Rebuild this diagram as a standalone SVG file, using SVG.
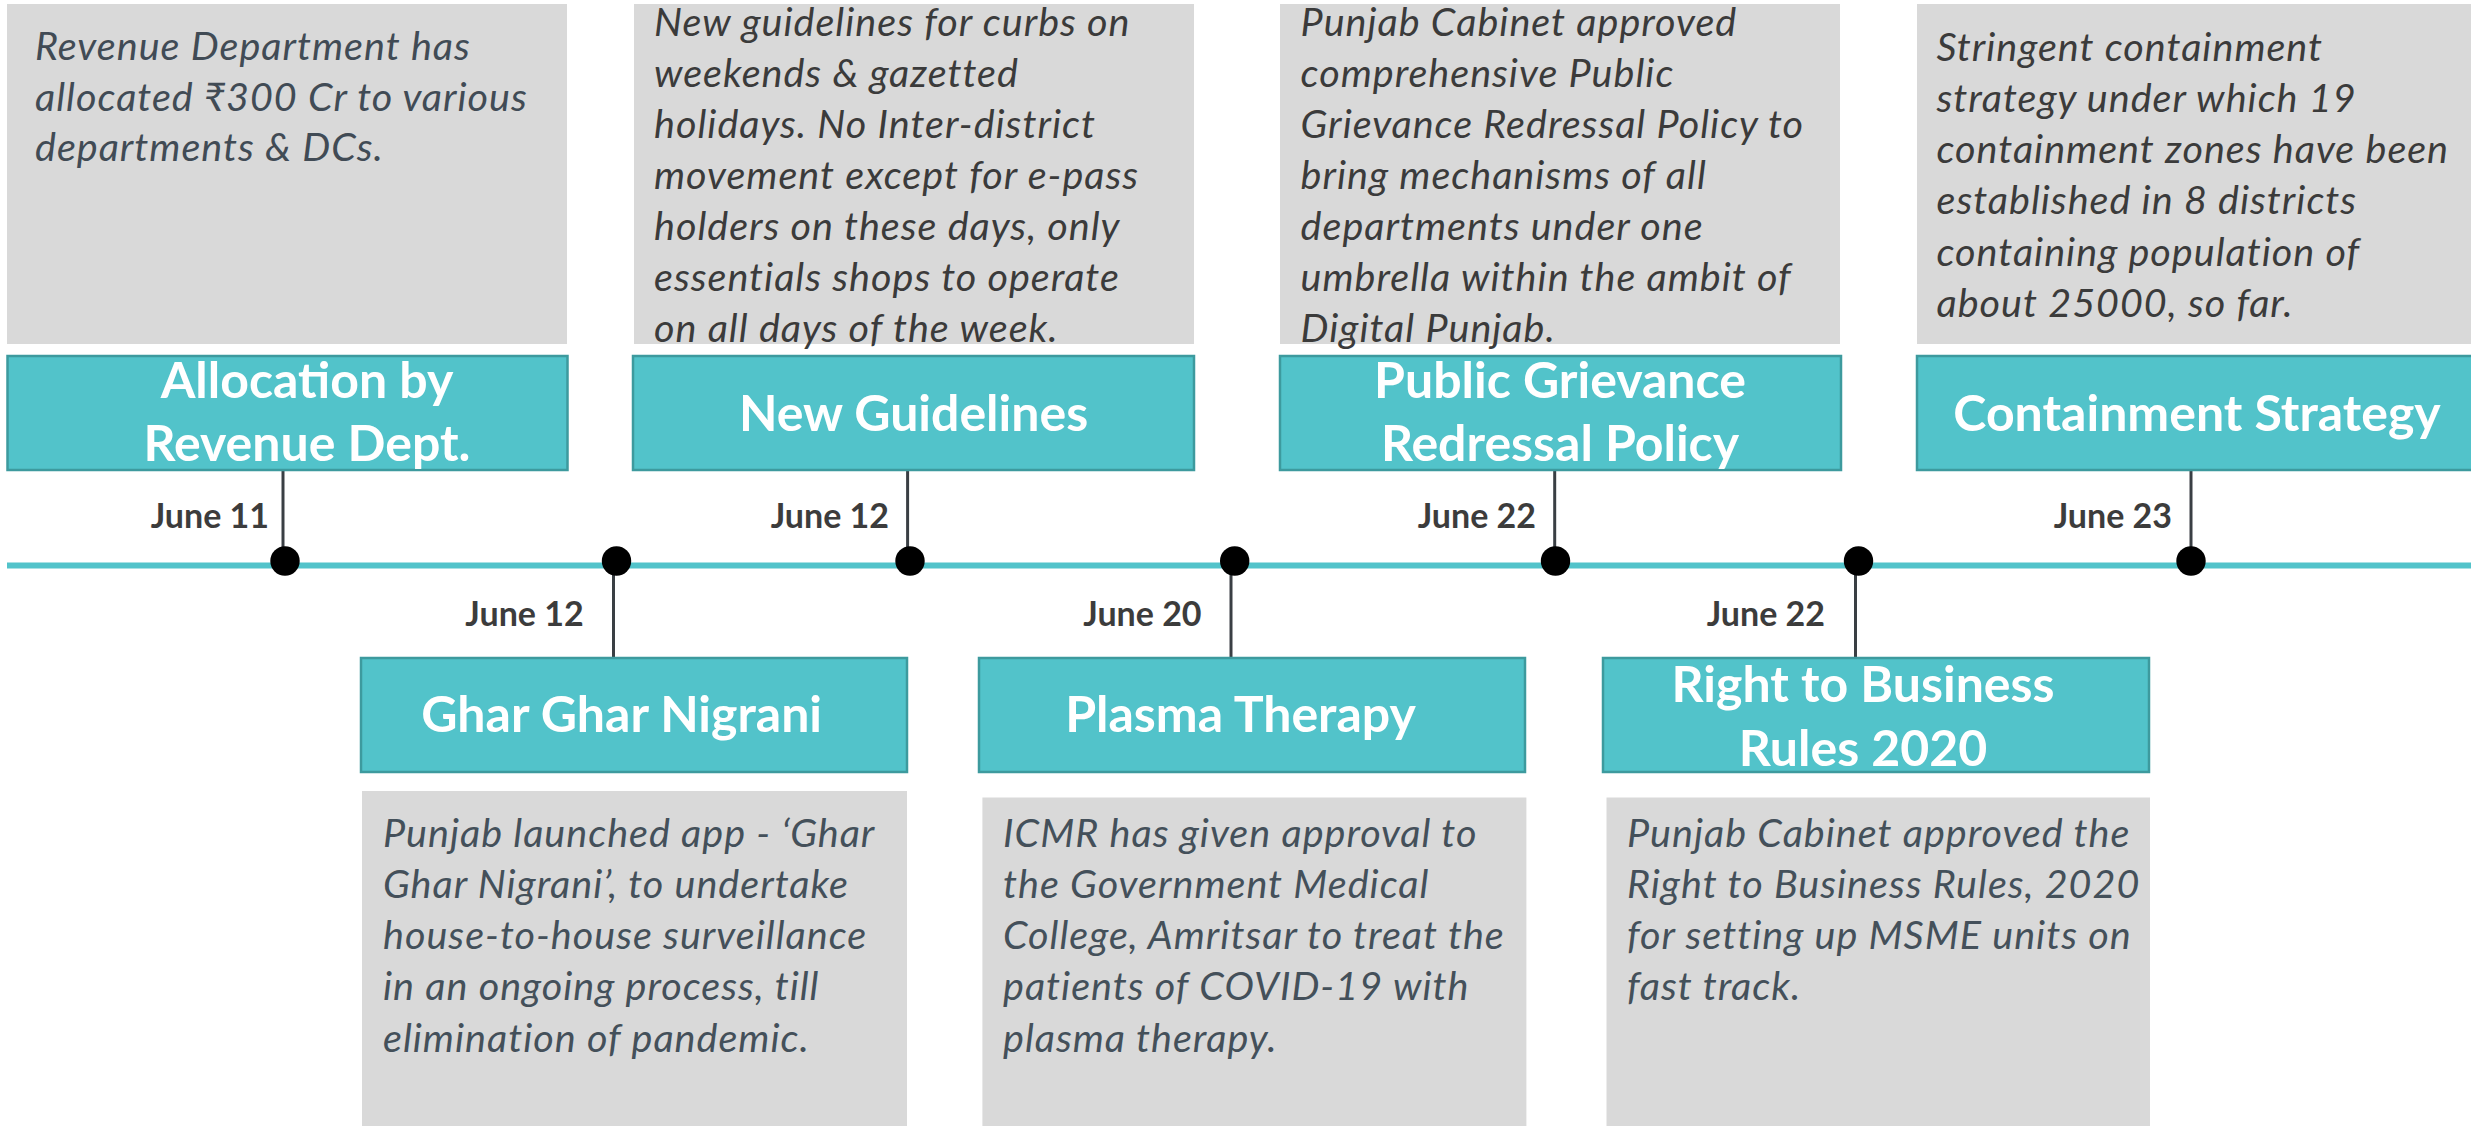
<svg xmlns="http://www.w3.org/2000/svg" width="2471" height="1126" viewBox="0 0 2471 1126">
<style>
.desc{fill:#d9d9d9}
.head{fill:#52c3ca;stroke:#3d9a9e;stroke-width:2.5}
.title{font-family:Lato,"Open Sans","Liberation Sans",sans-serif;font-weight:700;font-size:50px;fill:#ffffff;text-anchor:middle}
.date{font-family:Lato,"Open Sans","Liberation Sans",sans-serif;font-weight:700;font-size:34px;fill:#3c3c3c;text-anchor:end}
.body{font-family:Lato,"Open Sans","Liberation Sans",sans-serif;font-style:italic;font-size:39.5px;letter-spacing:1px}
.bt{fill:#3b3b3b}
.bb{fill:#44505a}
.b1{fill:#414b55}
.axis{stroke:#52c3ca;stroke-width:6;fill:none}
.stem{stroke:#3a3f44;stroke-width:3;fill:none}
.dot{fill:#000000}
</style>
<defs>
<clipPath id="c1"><rect x="7" y="356" width="561" height="114"/></clipPath>
<clipPath id="c3"><rect x="1280" y="356" width="561" height="114"/></clipPath>
<clipPath id="c7"><rect x="1603" y="658" width="546" height="114"/></clipPath>
</defs>
<rect width="2471" height="1126" fill="#ffffff"/>

<g id="connectors">
<line class="axis" x1="7" y1="565.5" x2="2471" y2="565.5"/>
<line class="stem" x1="283" y1="471" x2="283" y2="561"/>
<line class="stem" x1="907.6" y1="471" x2="907.6" y2="561"/>
<line class="stem" x1="1554.7" y1="471" x2="1554.7" y2="561"/>
<line class="stem" x1="2191" y1="471" x2="2191" y2="561"/>
<line class="stem" x1="613.5" y1="561" x2="613.5" y2="657"/>
<line class="stem" x1="1231" y1="561" x2="1231" y2="657"/>
<line class="stem" x1="1855.5" y1="561" x2="1855.5" y2="657"/>
<circle class="dot" cx="285" cy="561" r="14.7"/>
<circle class="dot" cx="616.5" cy="561" r="14.7"/>
<circle class="dot" cx="910" cy="561" r="14.7"/>
<circle class="dot" cx="1234.7" cy="561" r="14.7"/>
<circle class="dot" cx="1555.5" cy="561" r="14.7"/>
<circle class="dot" cx="1858.5" cy="561" r="14.7"/>
<circle class="dot" cx="2191" cy="561" r="14.7"/>
</g>

<g id="allocation">
<rect class="desc" x="7" y="4" width="560" height="340"/>
<text class="body b1"><tspan x="35" y="60">Revenue Department has</tspan><tspan x="35" y="111">allocated ₹300 Cr to various</tspan><tspan x="35" y="161">departments &amp; DCs.</tspan></text>
<rect class="head" x="7.5" y="356" width="560" height="114"/>
<g clip-path="url(#c1)"><text class="title"><tspan x="307" y="398">Allocation by</tspan><tspan x="307" y="461">Revenue Dept.</tspan></text></g>
<text class="date" x="269" y="528">June 11</text>
</g>

<g id="ghar-ghar-nigrani">
<text class="date" x="583.7" y="626">June 12</text>
<rect class="head" x="361" y="658" width="546" height="114"/>
<text class="title" x="621.6" y="732">Ghar Ghar Nigrani</text>
<rect class="desc" x="362" y="791" width="545" height="340"/>
<text class="body bb"><tspan x="383" y="846.6">Punjab launched app - ‘Ghar</tspan><tspan x="383" y="897.5">Ghar Nigrani’, to undertake</tspan><tspan x="383" y="948.5">house-to-house surveillance</tspan><tspan x="383" y="1000">in an ongoing process, till</tspan><tspan x="383" y="1052">elimination of pandemic.</tspan></text>
</g>

<g id="new-guidelines">
<rect class="desc" x="634" y="4" width="560" height="340"/>
<text class="body bt"><tspan x="654" y="36">New guidelines for curbs on</tspan><tspan x="654" y="87">weekends &amp; gazetted</tspan><tspan x="654" y="138">holidays. No Inter-district</tspan><tspan x="654" y="189">movement except for e-pass</tspan><tspan x="654" y="240">holders on these days, only</tspan><tspan x="654" y="291">essentials shops to operate</tspan><tspan x="654" y="342">on all days of the week.</tspan></text>
<rect class="head" x="633" y="356" width="561" height="114"/>
<text class="title" x="913.5" y="430.5">New Guidelines</text>
<text class="date" x="889" y="528">June 12</text>
</g>

<g id="plasma-therapy">
<text class="date" x="1201.6" y="626">June 20</text>
<rect class="head" x="979" y="658" width="546" height="114"/>
<text class="title" x="1240.5" y="732">Plasma Therapy</text>
<rect class="desc" x="982.4" y="797.5" width="544" height="340"/>
<text class="body bb"><tspan x="1003" y="846.6">ICMR has given approval to</tspan><tspan x="1003" y="897.5">the Government Medical</tspan><tspan x="1003" y="948.5">College, Amritsar to treat the</tspan><tspan x="1003" y="1000">patients of COVID-19 with</tspan><tspan x="1003" y="1052">plasma therapy.</tspan></text>
</g>

<g id="public-grievance">
<rect class="desc" x="1280" y="4" width="560" height="340"/>
<text class="body bt"><tspan x="1300.6" y="36">Punjab Cabinet approved</tspan><tspan x="1300.6" y="87">comprehensive Public</tspan><tspan x="1300.6" y="138">Grievance Redressal Policy to</tspan><tspan x="1300.6" y="189">bring mechanisms of all</tspan><tspan x="1300.6" y="240">departments under one</tspan><tspan x="1300.6" y="291">umbrella within the ambit of</tspan><tspan x="1300.6" y="342">Digital Punjab.</tspan></text>
<rect class="head" x="1280" y="356" width="561" height="114"/>
<g clip-path="url(#c3)"><text class="title"><tspan x="1560" y="398">Public Grievance</tspan><tspan x="1560" y="461">Redressal Policy</tspan></text></g>
<text class="date" x="1536" y="528">June 22</text>
</g>

<g id="right-to-business">
<text class="date" x="1825" y="626">June 22</text>
<rect class="head" x="1603" y="658" width="546" height="114"/>
<g clip-path="url(#c7)"><text class="title"><tspan x="1863" y="701.7">Right to Business</tspan><tspan x="1863" y="765.5">Rules 2020</tspan></text></g>
<rect class="desc" x="1606.5" y="797.5" width="543.5" height="340"/>
<text class="body bb"><tspan x="1627" y="846.6">Punjab Cabinet approved the</tspan><tspan x="1627" y="897.5">Right to Business Rules, 2020</tspan><tspan x="1627" y="948.5">for setting up MSME units on</tspan><tspan x="1627" y="1000">fast track.</tspan></text>
</g>

<g id="containment-strategy">
<rect class="desc" x="1917" y="4" width="560" height="340"/>
<text class="body bt"><tspan x="1936.5" y="61">Stringent containment</tspan><tspan x="1936.5" y="112">strategy under which 19</tspan><tspan x="1936.5" y="163">containment zones have been</tspan><tspan x="1936.5" y="214">established in 8 districts</tspan><tspan x="1936.5" y="266">containing population of</tspan><tspan x="1936.5" y="317">about 25000, so far.</tspan></text>
<rect class="head" x="1917" y="356" width="560" height="114"/>
<text class="title" x="2197" y="430.5">Containment Strategy</text>
<text class="date" x="2172" y="528">June 23</text>
</g>
</svg>
